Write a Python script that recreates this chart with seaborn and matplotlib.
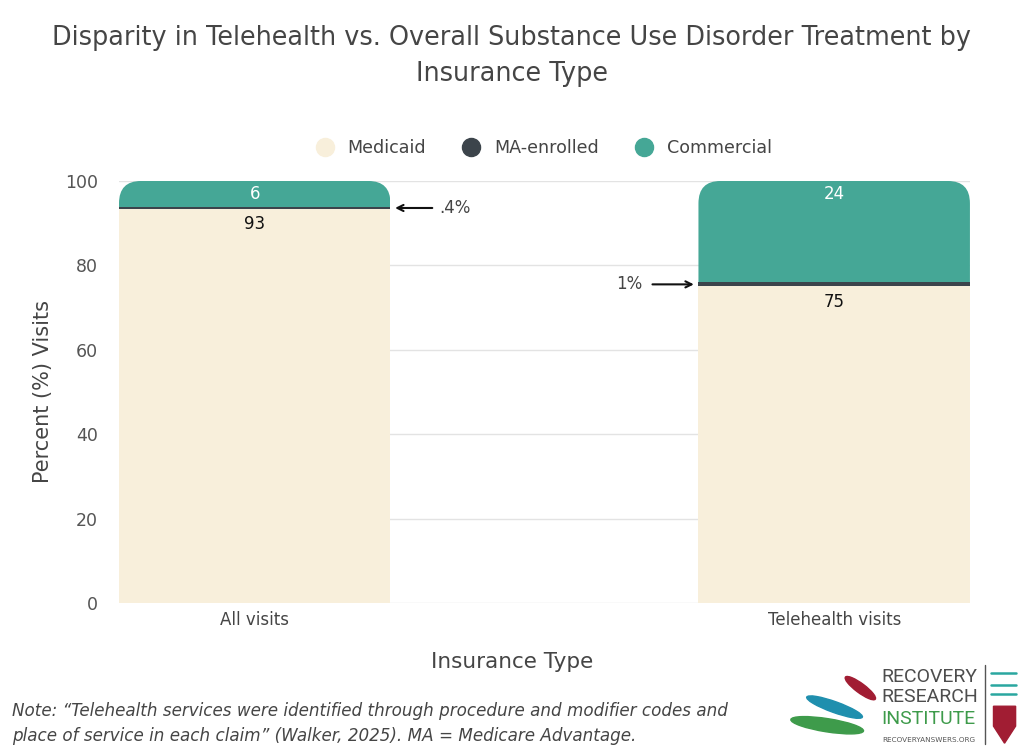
import matplotlib
matplotlib.use("Agg")
import matplotlib.pyplot as plt
import seaborn as sns
import numpy as np
import pandas as pd
from matplotlib.patches import FancyBboxPatch, Ellipse, Polygon
from matplotlib.lines import Line2D

categories = ["All visits", "Telehealth visits"]
medicaid = [93.4, 75.0]
ma_enrolled = [0.4, 1.0]
commercial = [6.2, 24.0]
medicaid_labels = ["93", "75"]
commercial_labels = ["6", "24"]
ma_notes = [".4%", "1%"]
series_names = ["Medicaid", "MA-enrolled", "Commercial"]
yticks = [0, 20, 40, 60, 80, 100]

c_med = "#F8EFDB"
c_ma = "#3C444B"
c_com = "#45A796"
txt = "#454545"

sns.set_theme(style="white")
plt.rcParams["font.family"] = ["DejaVu Sans"]

fig = plt.figure(figsize=(10.24, 7.5), dpi=100)
ax = fig.add_axes([0.1162, 0.196, 0.831, 0.5627])

df = pd.DataFrame({"cat": categories,
                   "med": medicaid, "ma": ma_enrolled, "com": commercial})
df["lvl_ma"] = df["med"] + df["ma"]
df["lvl_com"] = df["lvl_ma"] + df["com"]

W = 0.4685
sns.barplot(data=df, x="cat", y="lvl_com", color=c_com, saturation=1, width=W, ax=ax,
            zorder=2, linewidth=0)
n1 = len(ax.patches)
sns.barplot(data=df, x="cat", y="lvl_ma", color=c_ma, saturation=1, width=W, ax=ax,
            zorder=3, linewidth=0)
sns.barplot(data=df, x="cat", y="med", color=c_med, saturation=1, width=W, ax=ax,
            zorder=4, linewidth=0)

ax.set_xlim(-W / 2, 1 + W / 2)
ax.set_ylim(0, 100)
ax.set_yticks(yticks)
ax.yaxis.grid(True, color="#E3E3E3", linewidth=1)
ax.set_axisbelow(True)
for s in ax.spines.values():
    s.set_visible(False)

# rounded top corners for the stacked bars
rx = 0.038
ry = 5.3
for i, p in enumerate(ax.patches[:n1]):
    x0 = p.get_x(); w = p.get_width(); top = p.get_height()
    clip = FancyBboxPatch((x0 + rx, -20), w - 2 * rx, top + 20 - ry,
                          boxstyle=f"round,pad={rx},rounding_size={rx}",
                          mutation_aspect=ry / rx, transform=ax.transData,
                          facecolor="none", edgecolor="none")
    ax.add_patch(clip)
    clip.set_visible(False)
    p.set_clip_path(clip)

ax.tick_params(axis="y", labelsize=12.5, labelcolor="#555555", pad=15, length=0)
ax.tick_params(axis="x", labelsize=12, labelcolor=txt, pad=6, length=0)
ax.set_xlabel("Insurance Type", fontsize=15.5, color=txt, labelpad=14)
ax.xaxis.set_label_coords((512 - 119) / 851, -0.117)
ax.set_ylabel("Percent (%) Visits", fontsize=15, color=txt, labelpad=9)

# value labels
for i in range(len(categories)):
    top = df["lvl_com"][i]
    ax.text(i, top - 3.2, commercial_labels[i], ha="center", va="center",
            color="white", fontsize=12, zorder=6)
    ax.text(i, df["med"][i] - 3.6, medicaid_labels[i], ha="center", va="center",
            color="#111111", fontsize=12, zorder=6)

# annotations for MA share
y0 = df["lvl_ma"][0] - ma_enrolled[0] / 2
ax.annotate(ma_notes[0], xy=(W / 2 + 0.008, y0), xytext=(W / 2 + 0.085, y0),
            va="center", ha="left", fontsize=12, color=txt,
            arrowprops=dict(arrowstyle="->", color="#111111", lw=1.5,
                            mutation_scale=11, shrinkA=3, shrinkB=0))
y1 = df["lvl_ma"][1] - ma_enrolled[1] / 2
ax.annotate(ma_notes[1], xy=(1 - W / 2 - 0.008, y1), xytext=(1 - W / 2 - 0.097, y1),
            va="center", ha="right", fontsize=12, color=txt,
            arrowprops=dict(arrowstyle="->", color="#111111", lw=1.5,
                            mutation_scale=11, shrinkA=5, shrinkB=0))

# legend
handles = [Line2D([], [], marker="o", linestyle="", markersize=13, color=c)
           for c in (c_med, c_ma, c_com)]
fig.legend(handles, series_names, loc="center", bbox_to_anchor=(0.527, 0.803),
           ncol=3, frameon=False, fontsize=12.6, labelcolor=txt,
           handletextpad=0.3, columnspacing=1.6)

fig.text(0.5, 0.925, "Disparity in Telehealth vs. Overall Substance Use Disorder Treatment by\nInsurance Type",
         ha="center", va="center", fontsize=18.4, color=txt, linespacing=1.5)

fig.text(0.012, 0.0353, "Note: \u201cTelehealth services were identified through procedure and modifier codes and\nplace of service in each claim\u201d (Walker, 2025). MA = Medicare Advantage.",
         ha="left", va="center", fontsize=12.1, style="italic", color=txt, linespacing=1.45)

# logo (approximation)
fig.text(0.861, 0.084, "RECOVERY\nRESEARCH", ha="left", va="center", fontsize=14,
         color="#4D4D4D", linespacing=1.12, family=["Roboto", "DejaVu Sans"])
fig.text(0.861, 0.041, "INSTITUTE", ha="left", va="center", fontsize=14,
         color="#3E9B4B", family=["Roboto", "DejaVu Sans"])
fig.text(0.862, 0.013, "RECOVERYANSWERS.ORG", ha="left", va="center", fontsize=5.2,
         color="#555555")
lax = fig.add_axes([0.77, 0.0, 0.09, 0.11])
lax.set_xlim(0, 1); lax.set_ylim(0, 1); lax.axis("off")
lax.add_patch(Ellipse((0.42, 0.3), 0.8, 0.16, angle=-10, color="#3E9B4B"))
lax.add_patch(Ellipse((0.5, 0.52), 0.65, 0.13, angle=-22, color="#1F8FAE"))
lax.add_patch(Ellipse((0.78, 0.75), 0.42, 0.11, angle=-40, color="#A11D33"))
fig.add_artist(Line2D([0.962, 0.962], [0.008, 0.113], color="#555555", lw=1))
for yy in (0.103, 0.087, 0.075):
    fig.add_artist(Line2D([0.968, 0.992], [yy, yy], color="#2AA7A0", lw=1.8))
sax = fig.add_axes([0.969, 0.008, 0.024, 0.053])
sax.axis("off")
sax.set_xlim(0, 1); sax.set_ylim(0, 1)
sax.add_patch(Polygon([[0.05, 0.95], [0.95, 0.95], [0.95, 0.45], [0.5, 0.02], [0.05, 0.45]],
                      closed=True, color="#A11D33"))

fig.savefig("out.png", dpi=100, facecolor="white")
